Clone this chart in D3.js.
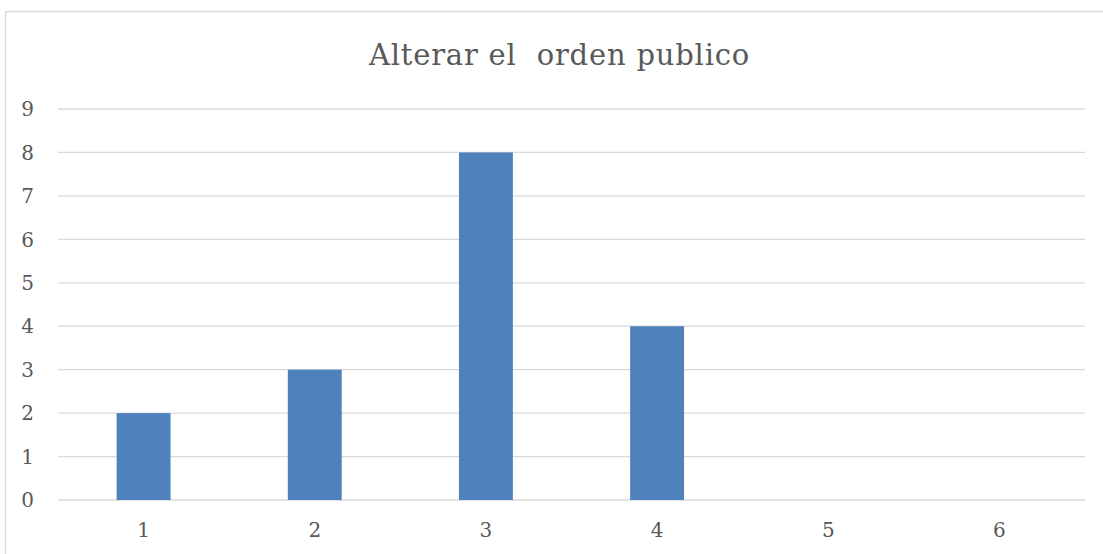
<!DOCTYPE html>
<html lang="es">
<head>
  <meta charset="UTF-8">
  <title>Alterar el orden publico</title>
  <style>
    body { margin: 0; background: #fff; }
    svg { display: block; }
    .grid line { stroke: #d9d9d9; stroke-width: 1.3px; }
    .lbl { font-family: "DejaVu Serif", serif; fill: #595959; }
  </style>
</head>
<body>
  <svg id="chart" width="1103" height="554"></svg>
  <script src="https://d3js.org/d3.v7.min.js"></script>
  <script>
    // data
    const title = "Alterar el\u00a0 orden publico";
    const categories = ["1", "2", "3", "4", "5", "6"];
    const values = [2, 3, 8, 4, 0, 0];
    const yTicks = [0, 1, 2, 3, 4, 5, 6, 7, 8, 9];

    const svg = d3.select("#chart");
    const plot = { left: 58, right: 1085, top: 109, bottom: 500 };

    // outer chart border
    svg.append("rect")
      .attr("x", 5.5).attr("y", 11.5)
      .attr("width", 1110).attr("height", 560)
      .attr("fill", "none")
      .attr("stroke", "#d9d9d9")
      .attr("stroke-width", 1.5);

    const x = d3.scaleBand()
      .domain(categories)
      .range([plot.left, plot.right]);

    const y = d3.scaleLinear()
      .domain([0, 9])
      .range([plot.bottom, plot.top]);

    // gridlines
    svg.append("g").attr("class", "grid")
      .selectAll("line")
      .data(yTicks)
      .join("line")
        .attr("x1", plot.left).attr("x2", plot.right)
        .attr("y1", d => y(d)).attr("y2", d => y(d));

    // y labels
    svg.append("g")
      .selectAll("text")
      .data(yTicks)
      .join("text")
        .attr("class", "lbl")
        .attr("x", 34)
        .attr("y", d => y(d))
        .attr("dy", "0.36em")
        .attr("text-anchor", "end")
        .style("font-size", "20px")
        .text(d => d);

    // bars
    const barW = x.bandwidth() * 0.315;
    svg.append("g")
      .selectAll("rect")
      .data(values)
      .join("rect")
        .attr("x", (d, i) => x(categories[i]) + x.bandwidth() / 2 - barW / 2)
        .attr("y", d => y(d))
        .attr("width", barW)
        .attr("height", d => y(0) - y(d))
        .attr("fill", "#4f81bd");

    // x labels
    svg.append("g")
      .selectAll("text")
      .data(categories)
      .join("text")
        .attr("class", "lbl")
        .attr("x", d => x(d) + x.bandwidth() / 2)
        .attr("y", 530)
        .attr("dy", "0.36em")
        .attr("text-anchor", "middle")
        .style("font-size", "20px")
        .text(d => d);

    // title
    svg.append("text")
      .attr("class", "lbl")
      .attr("x", 559.5)
      .attr("y", 65)
      .attr("text-anchor", "middle")
      .style("font-size", "29px")
      .style("letter-spacing", "0.8px")
      .text(title);
  </script>
</body>
</html>
